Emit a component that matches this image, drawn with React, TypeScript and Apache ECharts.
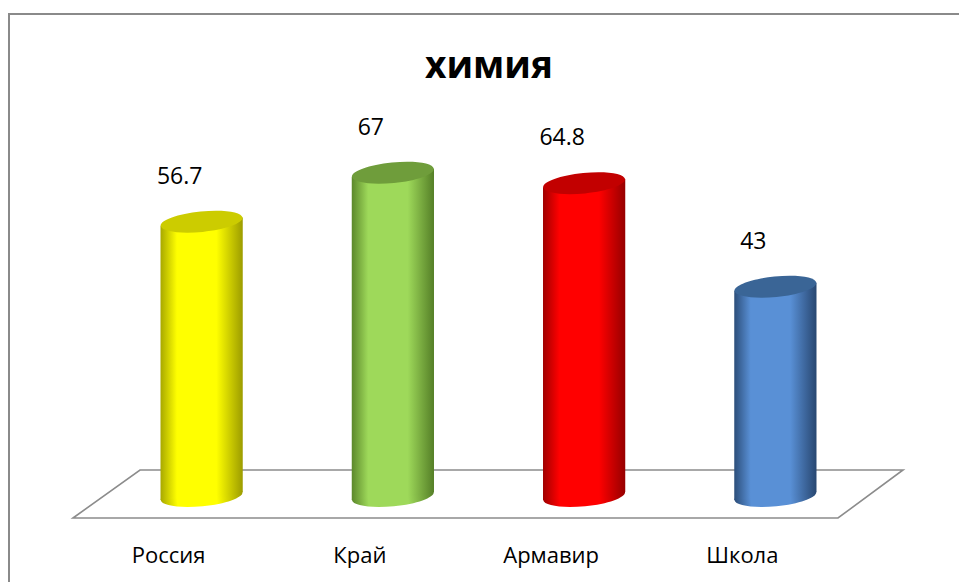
import React, { useEffect, useRef } from "react";
import * as echarts from "echarts";

const TITLE = "химия";
const CATEGORIES = ["Россия", "Край", "Армавир", "Школа"];
const VALUES = [56.7, 67, 64.8, 43];

// cylinder colours: [edge dark, bright centre, edge dark right, top cap]
const PALETTE = [
  { l: "#a8a800", m: "#ffff00", r: "#9c9c00", top: "#cccc00" },
  { l: "#5c882b", m: "#9ed95a", r: "#557f27", top: "#6f9d3b" },
  { l: "#a00000", m: "#ff0000", r: "#960000", top: "#c20000" },
  { l: "#2c4e7a", m: "#5990d6", r: "#284771", top: "#3a6596" },
];

const FONT = "'Open Sans', 'Noto Sans', sans-serif";
const TILT = 0.1;

export default function App() {
  const ref = useRef<HTMLDivElement>(null);

  useEffect(() => {
    if (!ref.current) return;
    const chart = echarts.init(ref.current, undefined, { renderer: "svg" });

    const renderItem = (params: any, api: any) => {
      const i = api.value(0);
      const v = api.value(1);
      const top = api.coord([i, v]);
      const base = api.coord([i, 0]);
      const w = api.size([1, 0])[0] * 0.43;
      const rx = w / 2;
      const ry = w * 0.125;
      const cx = top[0];
      const ty = top[1];
      const by = base[1] + 5;
      const c = PALETTE[i % PALETTE.length];
      const dy = rx * Math.sin(TILT);
      const mk = () =>
        new echarts.graphic.LinearGradient(0, 0, 1, 0, [
          { offset: 0, color: c.l },
          { offset: 0.2, color: c.m },
          { offset: 0.42, color: c.m },
          { offset: 0.68, color: c.m },
          { offset: 1, color: c.r },
        ]);
      return {
        type: "group",
        children: [
          {
            type: "ellipse",
            x: cx,
            y: by,
            rotation: TILT,
            shape: { cx: 0, cy: 0, rx, ry },
            style: { fill: mk() },
          },
          {
            type: "polygon",
            shape: {
              points: [
                [cx - rx, ty + dy],
                [cx + rx, ty - dy],
                [cx + rx, by - dy],
                [cx - rx, by + dy],
              ],
            },
            style: { fill: mk() },
          },
          {
            type: "ellipse",
            x: cx,
            y: ty,
            rotation: TILT,
            shape: { cx: 0, cy: 0, rx, ry },
            style: { fill: c.top },
          },
          {
            type: "text",
            x: cx - 22,
            y: ty - 47,
            style: {
              text: String(v),
              fill: "#000",
              fontSize: 23,
              fontFamily: FONT,
              align: "center",
              verticalAlign: "middle",
            },
          },
        ],
      };
    };

    chart.setOption({
      animation: false,
      backgroundColor: "#ffffff",
      title: {
        text: TITLE,
        left: 420,
        top: 40,
        textStyle: {
          fontSize: 37,
          fontWeight: "bold",
          fontFamily: FONT,
          color: "#000",
        },
      },
      grid: { left: 106, right: 88, top: 111, bottom: 91 },
      xAxis: {
        type: "category",
        data: CATEGORIES,
        axisLine: { show: false },
        axisTick: { show: false },
        axisLabel: {
          margin: 52,
          fontSize: 22,
          fontFamily: FONT,
          color: "#000",
          padding: [0, 66, 0, 0],
        },
      },
      yAxis: {
        type: "value",
        min: 0,
        max: 80,
        show: false,
        splitLine: { show: false },
      },
      graphic: [
        {
          type: "rect",
          z: 0,
          shape: { x: 9, y: 14, width: 1200, height: 1000 },
          style: { fill: "none", stroke: "#8a8a8a", lineWidth: 2 },
        },
        {
          type: "polygon",
          z: 0,
          shape: {
            points: [
              [73, 518],
              [140, 470],
              [903, 470],
              [838, 518],
            ],
          },
          style: { fill: "#ffffff", stroke: "#8c8c8c", lineWidth: 1.6 },
        },
      ],
      series: [
        {
          type: "custom",
          z: 5,
          renderItem,
          data: VALUES.map((v, i) => [i, v]),
        },
      ],
    });

    return () => chart.dispose();
  }, []);

  return (
    <div
      ref={ref}
      style={{ position: "absolute", left: 0, top: 0, width: 959, height: 582 }}
    />
  );
}
